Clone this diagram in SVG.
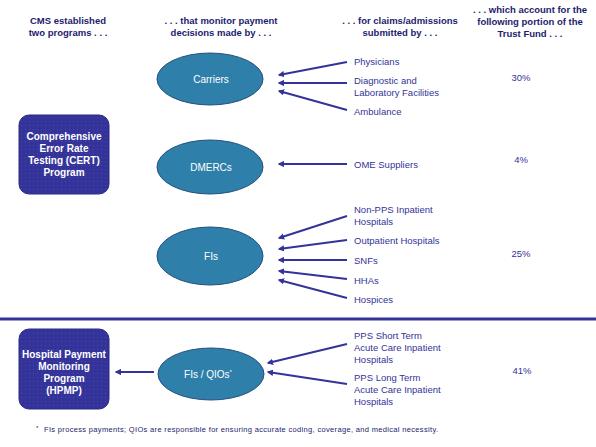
<svg xmlns="http://www.w3.org/2000/svg" width="596" height="447" viewBox="0 0 596 447">
<style>
.hd{font-family:"Liberation Sans",Arial,sans-serif;font-size:9.5px;font-weight:bold;fill:#1c1c6e;text-anchor:middle}
.it{font-family:"Liberation Sans",Arial,sans-serif;font-size:9.5px;fill:#333399}
.pc{font-family:"Liberation Sans",Arial,sans-serif;font-size:9.5px;fill:#333399;text-anchor:middle}
.bx{fill:url(#dots);stroke:#2a2a88;stroke-width:1}
.bt{font-family:"Liberation Sans",Arial,sans-serif;font-size:10px;font-weight:bold;fill:#ffffff;text-anchor:middle}
.el{fill:#2e7fa9;stroke:#25507e;stroke-width:1}
.et{font-family:"Liberation Sans",Arial,sans-serif;font-size:10px;fill:#ffffff;text-anchor:middle}
.cn{stroke:#333399;stroke-width:2;fill:none;marker-end:url(#ah)}
.fn{font-family:"Liberation Sans",Arial,sans-serif;font-size:7.5px;fill:#1c1c6e}
</style>
<defs>
<pattern id="dots" width="4" height="4" patternUnits="userSpaceOnUse">
<rect width="4" height="4" fill="#333399"/>
<rect x="1" y="1" width="1" height="1" fill="#4a4aa8"/>
</pattern>
<marker id="ah" viewBox="0 0 10 10" refX="8" refY="5" markerWidth="3.2" markerHeight="3.2" orient="auto" markerUnits="strokeWidth">
<path d="M0,0 L10,5 L0,10 z" fill="#333399"/>
</marker>
</defs>
<rect width="596" height="447" fill="#ffffff"/>

<g id="headers">
<text class="hd" x="68" y="24">CMS established</text>
<text class="hd" x="68" y="36">two programs . . .</text>
<text class="hd" x="221" y="24">. . . that monitor payment</text>
<text class="hd" x="221" y="36">decisions made by . . .</text>
<text class="hd" x="400" y="24">. . . for claims/admissions</text>
<text class="hd" x="400" y="36">submitted by . . .</text>
<text class="hd" x="530" y="13">. . . which account for the</text>
<text class="hd" x="530" y="25">following portion of the</text>
<text class="hd" x="530" y="37">Trust Fund . . .</text>
</g>

<g id="cert">
<rect class="bx" x="19" y="115" width="90" height="79" rx="10"/>
<text class="bt" x="64" y="140">Comprehensive</text>
<text class="bt" x="64" y="152">Error Rate</text>
<text class="bt" x="64" y="164">Testing (CERT)</text>
<text class="bt" x="64" y="176">Program</text>
</g>

<g id="hpmp">
<rect class="bx" x="19" y="329" width="90" height="80" rx="10"/>
<text class="bt" x="64" y="358">Hospital Payment</text>
<text class="bt" x="64" y="370">Monitoring</text>
<text class="bt" x="64" y="382">Program</text>
<text class="bt" x="64" y="394">(HPMP)</text>
</g>

<g id="carriers">
<ellipse class="el" cx="210" cy="79" rx="53" ry="26"/>
<text class="et" x="211" y="82.5">Carriers</text>
</g>
<g id="dmercs">
<ellipse class="el" cx="210" cy="167" rx="53" ry="27"/>
<text class="et" x="211" y="170.5">DMERCs</text>
</g>
<g id="fis">
<ellipse class="el" cx="210" cy="256" rx="53" ry="29"/>
<text class="et" x="211" y="259.5">FIs</text>
</g>
<g id="fisqios">
<ellipse class="el" cx="211" cy="374" rx="53" ry="26"/>
<text class="et" x="208" y="377.5">FIs / QIOs<tspan font-size="6" dy="-4">*</tspan></text>
</g>

<g id="sources">
<text class="it" x="354" y="65">Physicians</text>
<text class="it" x="354" y="84">Diagnostic and</text>
<text class="it" x="354" y="96">Laboratory Facilities</text>
<text class="it" x="354" y="115">Ambulance</text>
<text class="it" x="354" y="168">OME Suppliers</text>
<text class="it" x="354" y="213">Non-PPS Inpatient</text>
<text class="it" x="354" y="225">Hospitals</text>
<text class="it" x="354" y="244">Outpatient Hospitals</text>
<text class="it" x="354" y="264">SNFs</text>
<text class="it" x="354" y="284">HHAs</text>
<text class="it" x="354" y="303">Hospices</text>
<text class="it" x="354" y="339">PPS Short Term</text>
<text class="it" x="354" y="351">Acute Care Inpatient</text>
<text class="it" x="354" y="363">Hospitals</text>
<text class="it" x="354" y="381">PPS Long Term</text>
<text class="it" x="354" y="393">Acute Care Inpatient</text>
<text class="it" x="354" y="405">Hospitals</text>
</g>

<g id="percentages">
<text class="pc" x="521" y="81">30%</text>
<text class="pc" x="521" y="163">4%</text>
<text class="pc" x="521" y="257">25%</text>
<text class="pc" x="522" y="374">41%</text>
</g>

<g id="connectors">
<line class="cn" x1="347" y1="62" x2="279" y2="75"/>
<line class="cn" x1="347" y1="83" x2="279" y2="83"/>
<line class="cn" x1="347" y1="110" x2="279" y2="91"/>
<line class="cn" x1="347" y1="164" x2="279" y2="164"/>
<line class="cn" x1="347" y1="216" x2="279" y2="238"/>
<line class="cn" x1="347" y1="240" x2="279" y2="249"/>
<line class="cn" x1="347" y1="260" x2="279" y2="260"/>
<line class="cn" x1="347" y1="279" x2="279" y2="271"/>
<line class="cn" x1="347" y1="298" x2="279" y2="280"/>
<line class="cn" x1="347" y1="344" x2="268" y2="363"/>
<line class="cn" x1="347" y1="384" x2="268" y2="372"/>
<line class="cn" x1="154" y1="372" x2="116" y2="372"/>
</g>

<line x1="0" y1="319" x2="596" y2="319" stroke="#333399" stroke-width="3"/>

<text class="fn" x="36" y="432"><tspan font-size="6" dy="-2">*</tspan><tspan dy="2" x="44" textLength="394" lengthAdjust="spacing">FIs process payments; QIOs are responsible for ensuring accurate coding, coverage, and medical necessity.</tspan></text>
</svg>
